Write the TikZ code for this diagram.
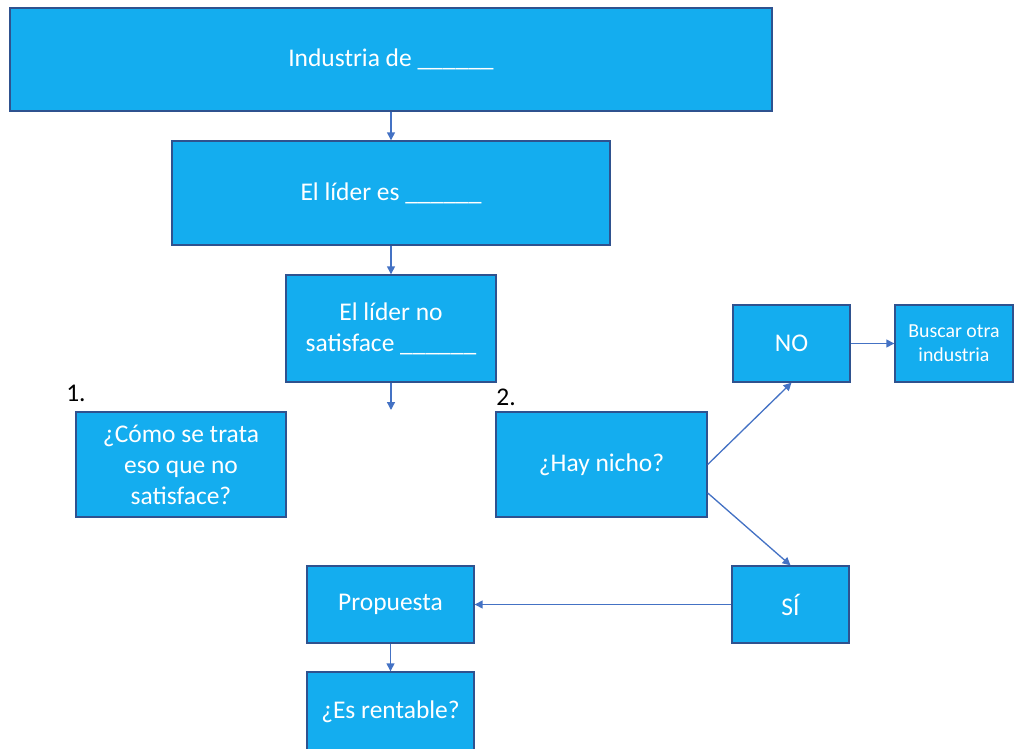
\documentclass[tikz,border=0pt]{standalone}
\usepackage{fontspec}
\setmainfont{Carlito}
\usepackage{xcolor}
\usepackage{tikz}
\usetikzlibrary{positioning,arrows.meta,calc}
\definecolor{boxfill}{HTML}{14ADEF}
\definecolor{boxline}{HTML}{2F528F}
\definecolor{flowline}{HTML}{4472C4}
\newcommand{\bigtxt}{\fontsize{14.5}{17.6}\selectfont}
\newcommand{\smalltxt}{\fontsize{11.3}{13.8}\selectfont}
\newcommand{\blank}{\_\_\_\_\_\_}

\begin{document}
\begin{tikzpicture}[x=0.02cm,y=0.02cm,
    box/.style={draw=boxline,line width=0.8pt,fill=boxfill,text=white,
                align=center,inner sep=0pt,font=\bigtxt},
    flow/.style={draw=flowline,line width=0.75pt,
                 -{Triangle[length=4.5pt,width=4.5pt]}}]
  \useasboundingbox (0,0) rectangle (1021,-749);
  % Main chain
  \node[box,minimum width=15.24cm,minimum height=2.06cm] (ind) at (391,-59.5)
        {Industria de \blank};
  \node[box,minimum width=8.76cm,minimum height=2.08cm] (lider) at (391,-193)
        {El líder es \blank};
  \node[box,minimum width=4.2cm,minimum height=2.14cm] (nosat) at (391,-328.5)
        {El líder no\\satisface \blank};
  \coordinate (down) at (391,-410);
  % Two questions
  \node[box,minimum width=4.2cm,minimum height=2.1cm] (como) at (181,-464.5)
        {¿Cómo se trata\\eso que no\\satisface?};
  \node[box,minimum width=4.22cm,minimum height=2.1cm] (nicho) at (601.5,-464.5)
        {¿Hay nicho?};
  \node[font=\bigtxt] (uno) at (76,-393) {1.};
  \node[font=\bigtxt] (dos) at (506,-397) {2.};
  % Answers
  \node[box,minimum width=2.34cm,minimum height=1.54cm] (no) at (791.5,-343.5) {NO};
  \node[box,minimum width=2.36cm,minimum height=1.54cm,font=\smalltxt] (otra)
        at (954,-343.5) {Buscar otra\\industria};
  \node[box,minimum width=2.34cm,minimum height=1.54cm] (si) at (790.5,-604.5) {SÍ};
  \node[box,minimum width=3.34cm,minimum height=1.54cm] (prop) at (390.5,-604.5)
        {Propuesta};
  \node[box,minimum width=3.34cm,minimum height=1.6cm] (rent) at (390.5,-712)
        {¿Es rentable?};
  % Connectors
  \foreach \a/\b in {ind/lider,lider/nosat,prop/rent}{
    \draw[flow] (\a) -- (\b);
  }
  \draw[flow] (nosat) -- (down);
  \draw[flow] (nicho.east) -- (no.south);
  \draw[flow] (nicho.-15.6) -- (si.north);
  \draw[flow] (no) -- (otra);
  \draw[flow] (si) -- (prop);
\end{tikzpicture}
\end{document}
